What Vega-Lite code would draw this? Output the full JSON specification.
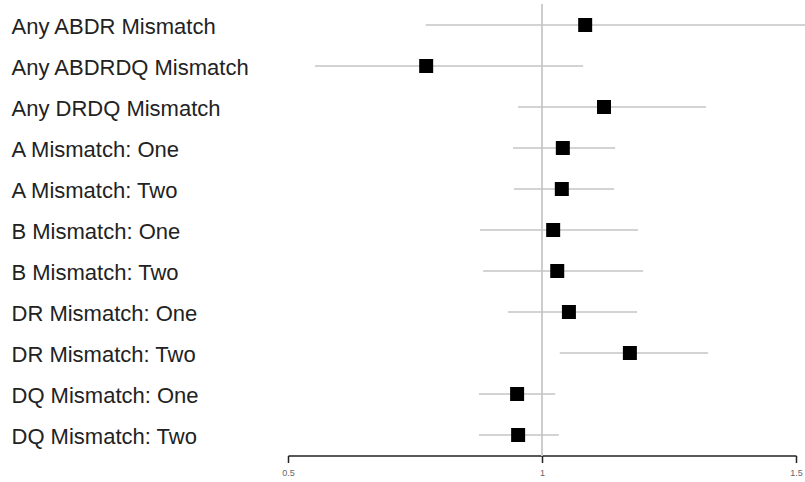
{
  "$schema": "https://vega.github.io/schema/vega-lite/v6.json",
  "autosize": {"type": "none"},
  "width": 508,
  "height": 451,
  "padding": {"left": 288, "top": 4.5, "right": 9, "bottom": 26.5},
  "background": "white",
  "config": {"view": {"stroke": null}, "font": "Liberation Sans"},
  "data": {
    "values": [
      {"label": "Any ABDR Mismatch", "est": 1.085, "lo": 0.771, "hi": 1.56},
      {"label": "Any ABDRDQ Mismatch", "est": 0.772, "lo": 0.553, "hi": 1.081},
      {"label": "Any DRDQ Mismatch", "est": 1.122, "lo": 0.953, "hi": 1.323},
      {"label": "A Mismatch: One", "est": 1.041, "lo": 0.943, "hi": 1.144},
      {"label": "A Mismatch: Two", "est": 1.039, "lo": 0.945, "hi": 1.142},
      {"label": "B Mismatch: One", "est": 1.022, "lo": 0.878, "hi": 1.189},
      {"label": "B Mismatch: Two", "est": 1.03, "lo": 0.884, "hi": 1.199},
      {"label": "DR Mismatch: One", "est": 1.053, "lo": 0.933, "hi": 1.187},
      {"label": "DR Mismatch: Two", "est": 1.173, "lo": 1.035, "hi": 1.327},
      {"label": "DQ Mismatch: One", "est": 0.951, "lo": 0.876, "hi": 1.026},
      {"label": "DQ Mismatch: Two", "est": 0.953, "lo": 0.876, "hi": 1.033}
    ]
  },
  "layer": [
    {
      "mark": {"type": "rule", "color": "#cccccc", "strokeWidth": 1},
      "encoding": {"x": {"datum": 1, "type": "quantitative"}}
    },
    {
      "mark": {"type": "rule", "color": "#c4c4c4", "strokeWidth": 1.5},
      "encoding": {
        "y": {"field": "label", "type": "nominal", "sort": null},
        "x": {"field": "lo", "type": "quantitative"},
        "x2": {"field": "hi"}
      }
    },
    {
      "mark": {"type": "point", "shape": "square", "filled": true, "size": 196, "color": "black", "opacity": 1},
      "encoding": {
        "y": {
          "field": "label", "type": "nominal", "sort": null, "title": null,
          "axis": {
            "domain": false, "ticks": false, "tickSize": 0, "grid": false,
            "labelAlign": "left", "labelBaseline": "alphabetic", "labelOffset": 8.5,
            "labelPadding": 277, "labelLimit": 300,
            "labelFontSize": 22, "labelColor": "#222222", "labelFont": "Liberation Sans"
          }
        },
        "x": {
          "field": "est", "type": "quantitative", "title": null,
          "scale": {"domain": [0.5, 1.5], "nice": false, "zero": false},
          "axis": {
            "values": [0.5, 1, 1.5], "format": "~g", "grid": false, "labelFlush": false,
            "domainColor": "#222222", "domainWidth": 1.5,
            "tickColor": "#222222", "tickWidth": 1.5, "tickSize": 7,
            "labelFontSize": 9, "labelColor": "#666666", "labelPadding": 6,
            "labelFont": "Liberation Sans"
          }
        }
      }
    }
  ]
}
